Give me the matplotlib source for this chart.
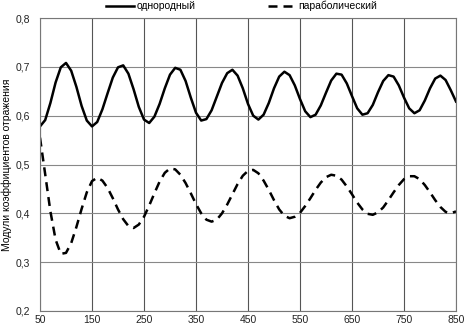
import numpy as np
import matplotlib
matplotlib.use('Agg')
import matplotlib.pyplot as plt

# Values (x step 10)
x = np.arange(50, 851, 10)
odnorodnyi = [0.578, 0.591, 0.626, 0.668, 0.699, 0.708, 0.692, 0.659, 0.620, 0.590,
              0.578, 0.587, 0.613, 0.646, 0.678, 0.699, 0.703, 0.686, 0.654, 0.618,
              0.592, 0.585, 0.598, 0.624, 0.656, 0.684, 0.698, 0.694, 0.671, 0.637,
              0.606, 0.590, 0.593, 0.611, 0.639, 0.667, 0.687, 0.694, 0.682, 0.656,
              0.624, 0.600, 0.592, 0.602, 0.626, 0.656, 0.680, 0.690, 0.683, 0.662,
              0.634, 0.609, 0.597, 0.602, 0.621, 0.647, 0.672, 0.686, 0.684, 0.666,
              0.640, 0.615, 0.602, 0.605, 0.622, 0.648, 0.671, 0.683, 0.680, 0.662,
              0.637, 0.615, 0.605, 0.611, 0.631, 0.656, 0.676, 0.682, 0.673, 0.652,
              0.629]
parabolicheskii = [0.555, 0.480, 0.404, 0.346, 0.317, 0.319, 0.339, 0.372, 0.409, 0.443,
                   0.466, 0.473, 0.467, 0.452, 0.431, 0.408, 0.388, 0.374, 0.370, 0.377,
                   0.393, 0.416, 0.441, 0.465, 0.483, 0.492, 0.490, 0.479, 0.462, 0.441,
                   0.419, 0.400, 0.387, 0.383, 0.387, 0.400, 0.418, 0.439, 0.460, 0.477,
                   0.487, 0.489, 0.482, 0.467, 0.448, 0.427, 0.408, 0.395, 0.390, 0.393,
                   0.401, 0.415, 0.431, 0.448, 0.463, 0.474, 0.479, 0.477, 0.469, 0.455,
                   0.439, 0.422, 0.408, 0.399, 0.397, 0.402, 0.412, 0.427, 0.443, 0.458,
                   0.470, 0.476, 0.476, 0.470, 0.458, 0.443, 0.427, 0.413, 0.403, 0.400,
                   0.404]
x_ticks = list(range(50, 851, 100))
y_ticks = [0.2, 0.3, 0.4, 0.5, 0.6, 0.7, 0.8]

plt.rcParams['font.family'] = ['Liberation Sans', 'DejaVu Sans']

fig = plt.figure(figsize=(4.65, 3.29), dpi=100)
ax = fig.add_axes([40 / 465, 1 - 311 / 329, 416 / 465, 293 / 329])

ax.plot(x, odnorodnyi, color='black', lw=1.8, label='однородный')
ax.plot(x, parabolicheskii, color='black', lw=1.8, dashes=(3.6, 2.4), label='параболический')

ax.set_xlim(50, 850)
ax.set_ylim(0.2, 0.8)
ax.set_xticks(x_ticks)
ax.set_yticks(y_ticks)
ax.set_yticklabels([f'{v:.1f}'.replace('.', ',') for v in y_ticks])
ax.tick_params(length=0, labelsize=7.5, colors='#222222')
ax.tick_params(axis='y', pad=7)
ax.tick_params(axis='x', pad=3)
ax.grid(True, axis='x', color='#555555', lw=0.8)
ax.grid(True, axis='y', color='#888888', lw=0.8)
ax.set_axisbelow(True)
for sp in ax.spines.values():
    sp.set_color('#777777')
    sp.set_linewidth(0.8)

ax.set_ylabel('Модули коэффициентов отражения', fontsize=7.5, labelpad=3)
fig.legend(loc='center', bbox_to_anchor=(0.52, 0.982), ncol=2, frameon=False,
           fontsize=7.5, handlelength=2.7, handletextpad=0.2, columnspacing=7,
           borderaxespad=0)

fig.savefig('out.png', dpi=100)
